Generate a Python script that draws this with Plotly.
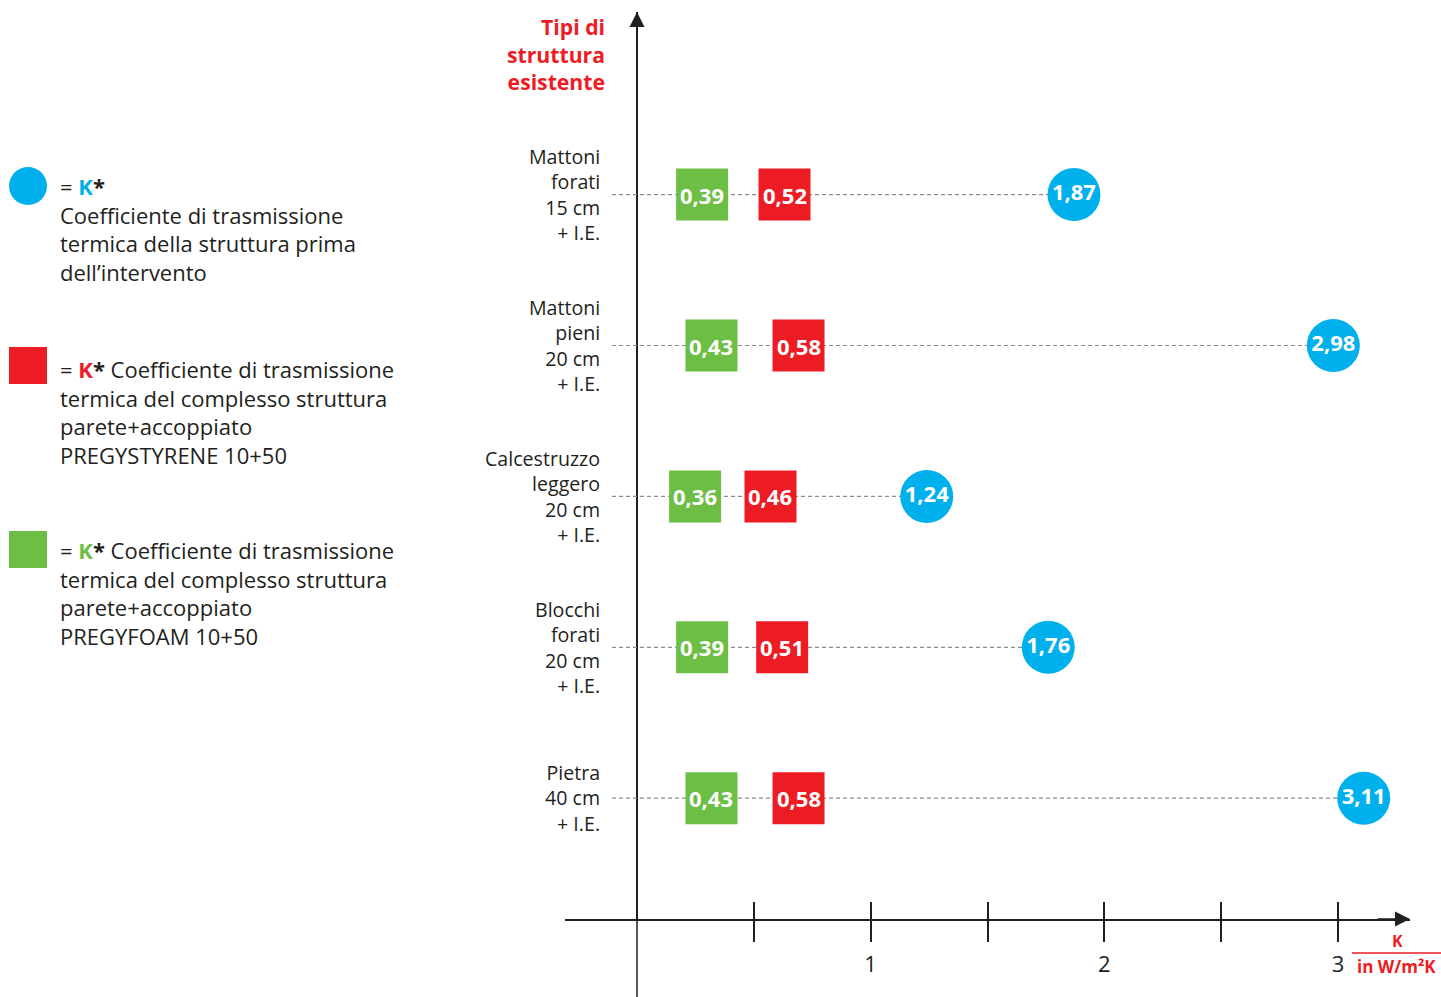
import plotly.graph_objects as go

# ---------------- data ----------------
structures = [
    "Mattoni<br>forati<br>15 cm<br>+ I.E.",
    "Mattoni<br>pieni<br>20 cm<br>+ I.E.",
    "Calcestruzzo<br>leggero<br>20 cm<br>+ I.E.",
    "Blocchi<br>forati<br>20 cm<br>+ I.E.",
    "Pietra<br>40 cm<br>+ I.E.",
]
k_before = [1.87, 2.98, 1.24, 1.76, 3.11]          # blue circles
k_pregystyrene = [0.52, 0.58, 0.46, 0.51, 0.58]     # red squares
k_pregyfoam = [0.39, 0.43, 0.36, 0.39, 0.43]        # green squares
tick_vals = [0.5, 1, 1.5, 2, 2.5, 3]
tick_text = ["", "1", "", "2", "", "3"]

# ---------------- style ----------------
BLUE = "#00b0ec"
RED = "#ed1c24"
GREEN = "#6dbe45"
DARK = "#231f20"
GRAY = "#8c8c8c"
FONT = "Open Sans"

W_FIG, H_FIG = 1441, 997
L, R, T, B = 565, 1410, 12, 919
PW, PH = R - L, B - T
X0_PX, X3_PX = 637, 1338
upx = (X3_PX - X0_PX) / 3.0
x_range = [(L - X0_PX) / upx, (R - X0_PX) / upx]
row0, rstep = 194.6, 150.9
y_range = [(B - row0) / rstep, (T - row0) / rstep]


def xp(px):
    return (px - L) / PW


def yp(py):
    return (B - py) / PH


def fmt(v):
    return f"{v:.2f}".replace(".", ",")


cats = [str(i) for i in range(len(structures))]
line_start = (612 - X0_PX) / upx

fig = go.Figure()

# dotted guide lines
for c, kb in zip(cats, k_before):
    fig.add_trace(go.Scatter(
        x=[line_start, kb], y=[c, c], mode="lines",
        line=dict(color=GRAY, width=1.2, dash="4px,3px"),
        hoverinfo="skip", showlegend=False))

# blue circles
fig.add_trace(go.Scatter(
    x=k_before, y=cats, mode="markers+text",
    marker=dict(size=53, color=BLUE, line=dict(width=0)),
    text=[fmt(v) for v in k_before], textposition="middle center",
    textfont=dict(family=FONT, size=22, color="white", weight="bold"),
    showlegend=False))

SQ = 52
shapes = []
annotations = []
for c, g, r in zip(cats, k_pregyfoam, k_pregystyrene):
    shapes.append(dict(type="rect", xref="x", yref="y", xsizemode="pixel", ysizemode="pixel",
                       xanchor=g, yanchor=c, x0=-SQ, x1=0, y0=-SQ / 2, y1=SQ / 2,
                       fillcolor=GREEN, line=dict(width=0), layer="above"))
    shapes.append(dict(type="rect", xref="x", yref="y", xsizemode="pixel", ysizemode="pixel",
                       xanchor=r, yanchor=c, x0=0, x1=SQ, y0=-SQ / 2, y1=SQ / 2,
                       fillcolor=RED, line=dict(width=0), layer="above"))
    annotations.append(dict(x=g, y=c, xref="x", yref="y", xshift=-SQ / 2, text=fmt(g),
                            xanchor="center", yanchor="middle",
                            showarrow=False, font=dict(family=FONT, size=22, color="white", weight="bold")))
    annotations.append(dict(x=r, y=c, xref="x", yref="y", xshift=SQ / 2, text=fmt(r),
                            xanchor="center", yanchor="middle",
                            showarrow=False, font=dict(family=FONT, size=22, color="white", weight="bold")))

# category labels
for c, s in zip(cats, structures):
    annotations.append(dict(x=(602 - X0_PX) / upx, y=c, xref="x", yref="y", text=s,
                            xanchor="right", yanchor="middle", align="right", showarrow=False,
                            font=dict(family=FONT, size=19.6, color=DARK)))

# title of vertical axis
annotations.append(dict(x=xp(607), y=yp(54.5), xref="paper", yref="paper",
                        text="<b>Tipi di<br>struttura<br>esistente</b>", xanchor="right", yanchor="middle",
                        align="right", showarrow=False, font=dict(family=FONT, size=21.2, color=RED)))

# arrows
annotations.append(dict(x=0, y=1, xref="x", yref="paper", ax=0, ay=34, text="", showarrow=True,
                        arrowhead=2, arrowsize=2, arrowwidth=1.5, arrowcolor=DARK))
annotations.append(dict(x=1, y=0, xref="paper", yref="paper", ax=-34, ay=0, text="", showarrow=True,
                        arrowhead=2, arrowsize=2, arrowwidth=1.5, arrowcolor=DARK))

# y axis extension below x axis
shapes.append(dict(type="line", xref="x", yref="paper", x0=0, x1=0, y0=0, y1=yp(997),
                   line=dict(color=DARK, width=1.5)))

# unit label
annotations.append(dict(x=xp(1397), y=yp(941), xref="paper", yref="paper", text="<b>K</b>",
                        xanchor="center", yanchor="middle",
                        showarrow=False, font=dict(family=FONT, size=16, color=RED)))
shapes.append(dict(type="line", xref="paper", yref="paper", x0=xp(1352), x1=xp(1441),
                   y0=yp(953), y1=yp(953), line=dict(color=RED, width=1.5)))
annotations.append(dict(x=xp(1396), y=yp(966), xref="paper", yref="paper", text="<b>in W/m²K</b>",
                        xanchor="center", yanchor="middle",
                        showarrow=False, font=dict(family=FONT, size=17, color=RED)))

# legend markers
shapes.append(dict(type="circle", xref="paper", yref="paper", x0=xp(9), x1=xp(47), y0=yp(205), y1=yp(167),
                   fillcolor=BLUE, line=dict(width=0)))
shapes.append(dict(type="rect", xref="paper", yref="paper", x0=xp(9), x1=xp(47), y0=yp(384), y1=yp(347),
                   fillcolor=RED, line=dict(width=0)))
shapes.append(dict(type="rect", xref="paper", yref="paper", x0=xp(9), x1=xp(47), y0=yp(568), y1=yp(531),
                   fillcolor=GREEN, line=dict(width=0)))

leg_blocks = [
    (229, f"= <b><span style='color:{BLUE}'>K</span>*</b><br>Coefficiente di trasmissione<br>"
          "termica della struttura prima<br>dell’intervento"),
    (412, f"= <b><span style='color:{RED}'>K</span>*</b> Coefficiente di trasmissione<br>"
          "termica del complesso struttura<br>parete+accoppiato<br>PREGYSTYRENE 10+50"),
    (592.5, f"= <b><span style='color:{GREEN}'>K</span>*</b> Coefficiente di trasmissione<br>"
            "termica del complesso struttura<br>parete+accoppiato<br>PREGYFOAM 10+50"),
]
for yc, t in leg_blocks:
    annotations.append(dict(x=xp(58), y=yp(yc), xref="paper", yref="paper", text=t,
                            xanchor="left", yanchor="middle", align="left", showarrow=False,
                            font=dict(family=FONT, size=22, color=DARK)))

fig.update_layout(
    width=W_FIG, height=H_FIG,
    margin=dict(l=L, r=W_FIG - R, t=T, b=H_FIG - B),
    paper_bgcolor="white", plot_bgcolor="white",
    showlegend=False,
    shapes=shapes, annotations=annotations,
    xaxis=dict(range=x_range, showgrid=False, zeroline=True, zerolinecolor=DARK, zerolinewidth=1.5,
               showline=True, linecolor=DARK, linewidth=1.5,
               tickmode="array", tickvals=tick_vals, ticktext=tick_text,
               ticks="outside", ticklen=21, tickwidth=1.5, tickcolor=DARK,
               ticklabelstandoff=4,
               tickfont=dict(family=FONT, size=22, color=DARK)),
    xaxis2=dict(range=x_range, overlaying="x", side="bottom", anchor="y", showgrid=False, zeroline=False,
                showline=False, tickmode="array", tickvals=tick_vals, ticktext=["" for _ in tick_vals],
                ticks="inside", ticklen=17, tickwidth=1.5, tickcolor=DARK, showticklabels=False),
    yaxis=dict(type="category", categoryarray=cats, range=y_range, showgrid=False, zeroline=False,
               showline=False, showticklabels=False, ticks=""),
)
# dummy trace to activate xaxis2
fig.add_trace(go.Scatter(x=[None], y=[None], xaxis="x2", yaxis="y", showlegend=False, hoverinfo="skip"))

fig.write_html("out.html")
